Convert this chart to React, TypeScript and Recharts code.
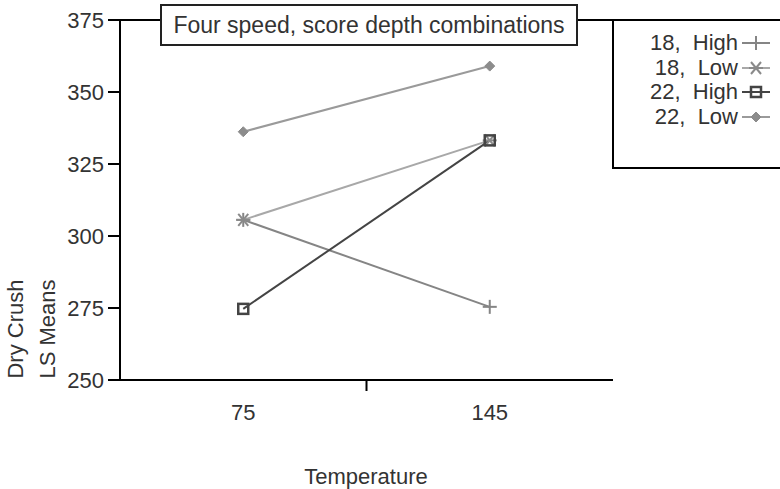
import { LineChart, Line, XAxis, YAxis } from 'recharts';

// Temperature groups on the x axis
const categories = ['75', '145'];
// Dry Crush LS means per speed / score depth combination
const high18 = [305.6, 275.4];
const low18 = [305.6, 333.2];
const high22 = [274.7, 333.2];
const low22 = [336.2, 359.0];
const yTicks = [250, 275, 300, 325, 350, 375];

const FONT = '"Liberation Sans", Arial, sans-serif';
const FS = 22;

const series = [
  { key: 'h18', name: '18,  High', color: '#858585', marker: 'plus' },
  { key: 'l18', name: '18,  Low', color: '#a8a8a8', marker: 'star' },
  { key: 'h22', name: '22,  High', color: '#444444', marker: 'square' },
  { key: 'l22', name: '22,  Low', color: '#9a9a9a', marker: 'diamond' },
];

// each category sits in the middle of its half of the x range
const chartData = categories.map((temp, i) => ({
  temp,
  x: 2 * i + 1,
  h18: high18[i],
  l18: low18[i],
  h22: high22[i],
  l22: low22[i],
}));

function Marker({ kind, cx, cy, color }: { kind: string; cx: number; cy: number; color: string }) {
  if (kind === 'plus') {
    return (
      <g stroke={color} strokeWidth={2}>
        <line x1={cx - 7} y1={cy} x2={cx + 7} y2={cy} />
        <line x1={cx} y1={cy - 7} x2={cx} y2={cy + 7} />
      </g>
    );
  }
  if (kind === 'star') {
    return (
      <g stroke="#8a8a8a" strokeWidth={2}>
        <line x1={cx - 7} y1={cy} x2={cx + 7} y2={cy} />
        <line x1={cx - 5} y1={cy - 6} x2={cx + 5} y2={cy + 6} />
        <line x1={cx - 5} y1={cy + 6} x2={cx + 5} y2={cy - 6} />
      </g>
    );
  }
  if (kind === 'square') {
    return <rect x={cx - 5} y={cy - 5} width={10} height={10} fill="none" stroke={color} strokeWidth={2.5} />;
  }
  return (
    <polygon
      points={`${cx},${cy - 5} ${cx + 5},${cy} ${cx},${cy + 5} ${cx - 5},${cy}`}
      fill="#8c8c8c"
      stroke="#8c8c8c"
    />
  );
}

function XTick(props: any) {
  const { x, y, payload } = props;
  if (payload.value === 2) {
    return <line x1={x} y1={y} x2={x} y2={y + 11} stroke="#000" strokeWidth={2} />;
  }
  const label = categories[(payload.value - 1) / 2];
  return (
    <text x={x} y={y + 40} textAnchor="middle" fontSize={FS} fill="#333" fontFamily={FONT}>
      {label}
    </text>
  );
}

export default function App() {
  return (
    <div style={{ position: 'absolute', left: 0, top: 0, width: 780, height: 489, fontFamily: FONT, background: '#fff', overflow: 'hidden' }}>
      <LineChart width={780} height={489} data={chartData} margin={{ top: 20, right: 167, bottom: 79, left: 60 }}>
        <XAxis
          dataKey="x"
          type="number"
          domain={[0, 4]}
          ticks={[1, 2, 3]}
          tick={<XTick />}
          tickLine={false}
          tickSize={0}
          tickMargin={0}
          height={30}
          axisLine={{ stroke: '#000', strokeWidth: 2 }}
        />
        <YAxis
          type="number"
          domain={[250, 375]}
          ticks={yTicks}
          width={60}
          tickSize={12}
          tickMargin={4}
          tick={{ fontSize: FS, fill: '#333', fontFamily: FONT }}
          tickLine={{ stroke: '#000', strokeWidth: 2 }}
          axisLine={{ stroke: '#000', strokeWidth: 2 }}
        />
        <YAxis
          yAxisId="right"
          orientation="right"
          width={0}
          tick={false}
          tickLine={false}
          axisLine={{ stroke: '#000', strokeWidth: 2 }}
        />
        {series.map((s) => (
          <Line
            key={s.key}
            dataKey={s.key}
            name={s.name}
            stroke={s.color}
            strokeWidth={2}
            isAnimationActive={false}
            dot={(p: any) => <Marker key={`${s.key}-${p.index}`} kind={s.marker} cx={p.cx} cy={p.cy} color={s.color} />}
            activeDot={false}
          />
        ))}
      </LineChart>

      {/* top border of plot, continued through the legend box */}
      <div style={{ position: 'absolute', left: 119, top: 19, width: 661, height: 2, background: '#000' }} />

      {/* title box */}
      <div
        style={{
          position: 'absolute',
          left: 160,
          top: 4,
          width: 414,
          height: 38,
          border: '2px solid #222',
          background: '#fff',
          fontSize: 23,
          color: '#333',
          display: 'flex',
          alignItems: 'center',
          justifyContent: 'center',
        }}
      >
        Four speed, score depth combinations
      </div>

      {/* legend box */}
      <div
        style={{
          position: 'absolute',
          left: 612,
          top: 19,
          width: 168,
          height: 146,
          borderLeft: '2px solid #000',
          borderBottom: '2px solid #000',
          borderTop: '2px solid #000',
          background: '#fff',
        }}
      >
        {series.map((s, i) => (
          <div
            key={s.key}
            style={{ position: 'absolute', right: 10, top: 10 + i * 24.5, height: 24, display: 'flex', alignItems: 'center' }}
          >
            <span style={{ fontSize: FS, color: '#333', whiteSpace: 'pre' }}>{s.name}</span>
            <svg width={34} height={24}>
              <line x1={4} y1={12} x2={32} y2={12} stroke={s.color} strokeWidth={2} />
              <Marker kind={s.marker} cx={18} cy={12} color={s.color} />
            </svg>
          </div>
        ))}
      </div>

      {/* y axis title, two rotated lines */}
      <div
        style={{
          position: 'absolute',
          left: 32,
          top: 329,
          transform: 'translate(-50%, -50%) rotate(-90deg)',
          fontSize: FS,
          color: '#333',
          lineHeight: '32px',
          textAlign: 'center',
          whiteSpace: 'nowrap',
        }}
      >
        Dry Crush
        <br />
        LS Means
      </div>

      <div
        style={{
          position: 'absolute',
          left: 366,
          top: 467,
          transform: 'translateX(-50%)',
          fontSize: FS,
          lineHeight: '20px',
          color: '#333',
          whiteSpace: 'nowrap',
        }}
      >
        Temperature
      </div>
    </div>
  );
}
